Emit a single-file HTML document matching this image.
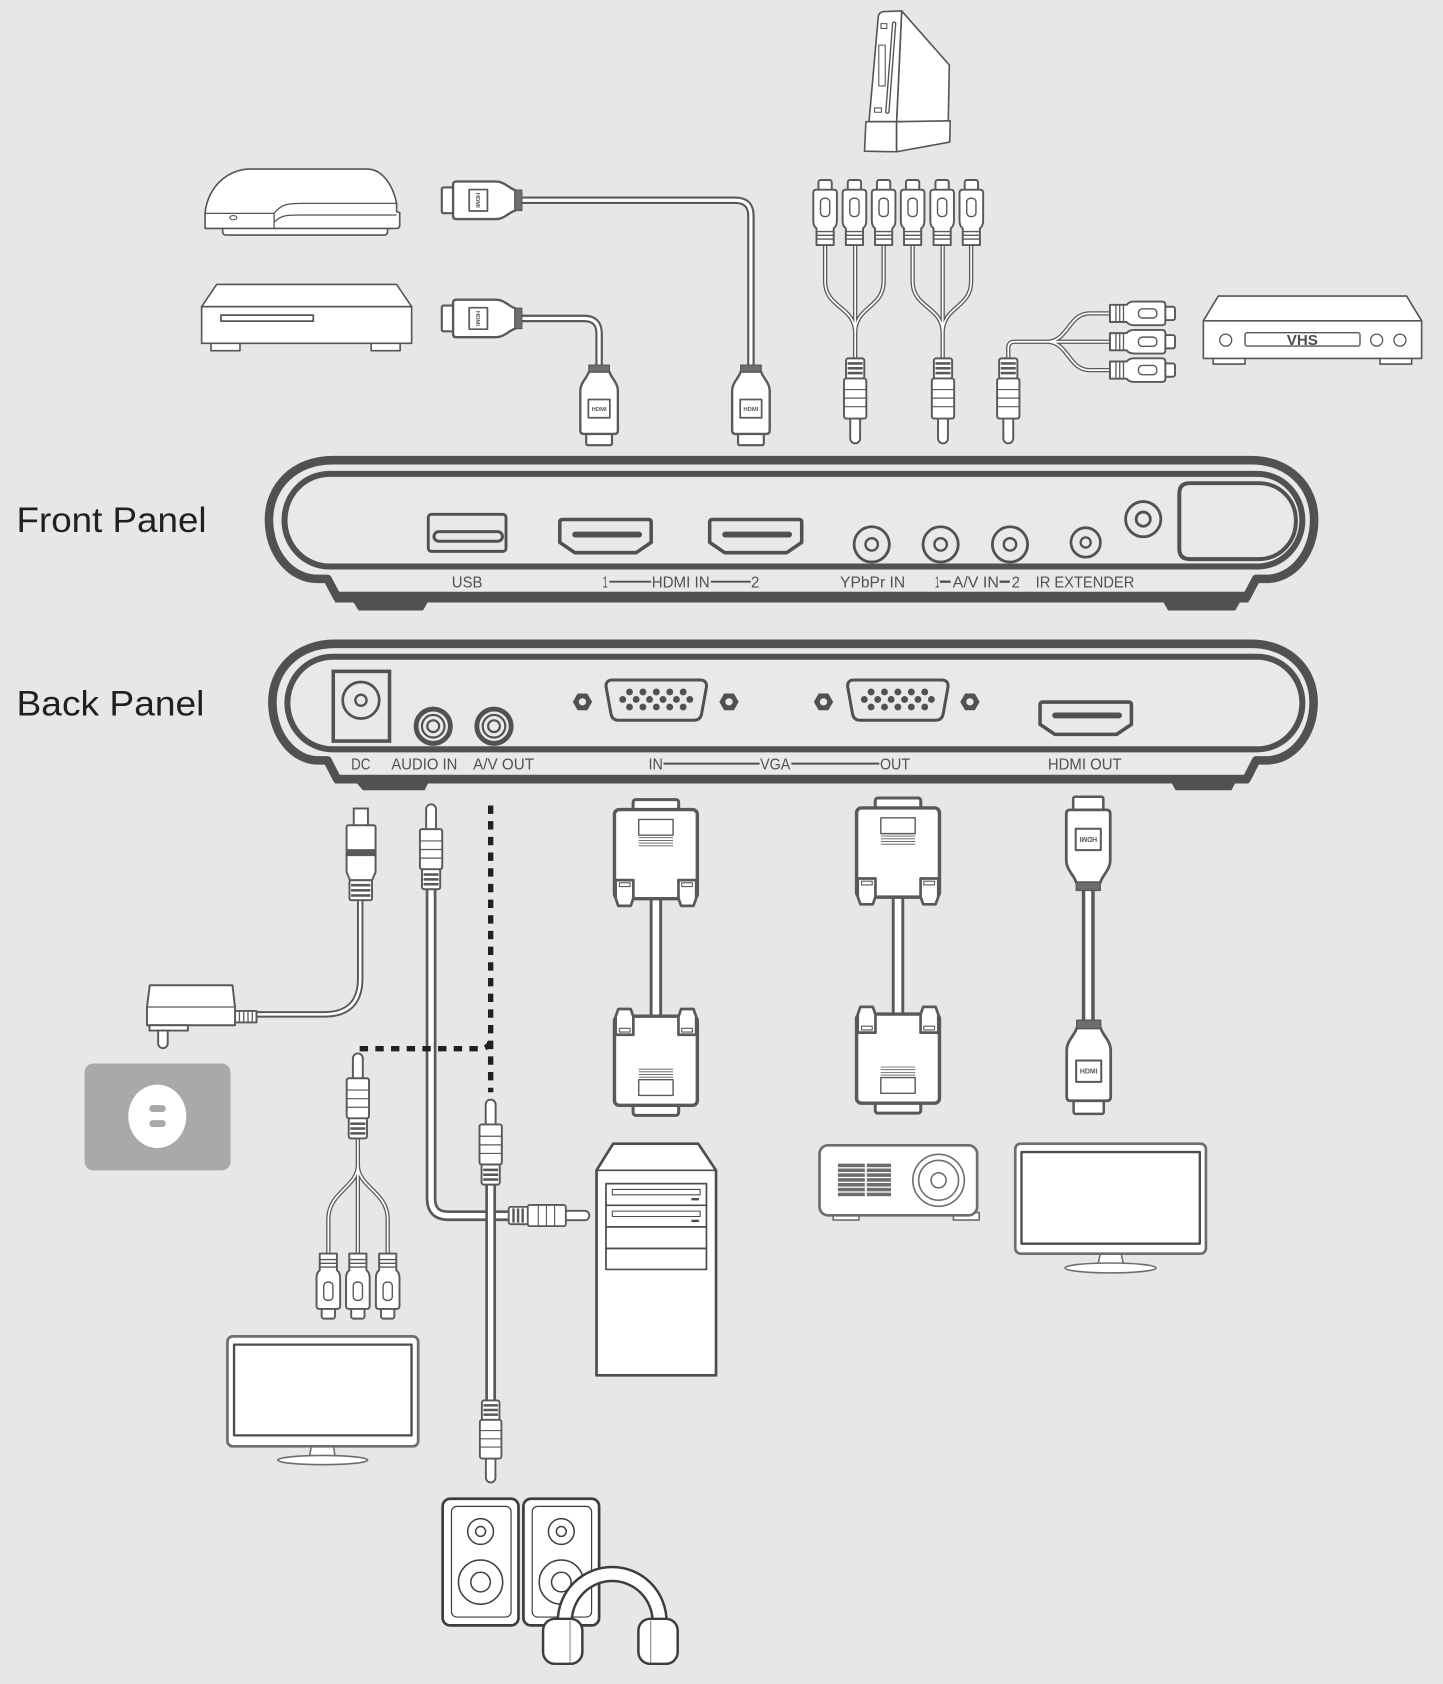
<!DOCTYPE html>
<html><head><meta charset="utf-8">
<style>
html,body{margin:0;padding:0;background:#e6e7e8;}
svg{display:block;}
</style></head><body>
<svg xmlns="http://www.w3.org/2000/svg" width="1443" height="1684" viewBox="0 0 1344 1568" preserveAspectRatio="none" font-family="'Liberation Sans', Arial, sans-serif">
<defs>
 <g id="hdmi" stroke="#58595b" stroke-linejoin="round">
  <rect x="-12" y="18" width="24" height="19.5" rx="1.5" fill="#fff" stroke-width="2"/>
  <path d="M-9.5,-31 H9.5 C11,-25 17.5,-21 17.5,-13 V24 Q17.5,27 14.5,27 H-14.5 Q-17.5,27 -17.5,24 V-13 C-17.5,-21 -11,-25 -9.5,-31 Z" fill="#fff" stroke-width="2.2"/>
  <rect x="-9.5" y="-37" width="19" height="6.5" fill="#6d6e70" stroke-width="1.2"/>
  <rect x="-10" y="-5" width="20" height="17" fill="#fff" stroke-width="1.6"/>
  <text x="0" y="5.5" font-size="5.5" text-anchor="middle" fill="#58595b" stroke="none" font-weight="bold">HDMI</text>
 </g>
 <g id="rcaF" stroke="#58595b" stroke-width="1.8" fill="#fff" stroke-linejoin="round">
  <rect x="-6.2" y="0" width="12.4" height="12" rx="2"/>
  <path d="M-11,12 Q-11,9 -8,9 H8 Q11,9 11,12 V38 Q11,43 8,45 V60.6 H-8 V45 Q-11,43 -11,38 Z"/>
  <rect x="-4.3" y="17" width="8.6" height="17" rx="3.5" stroke-width="1.3"/>
  <path d="M-8,48 H8 M-8,51.5 H8 M-8,55 H8" stroke-width="1.2" fill="none"/>
 </g>
 <g id="rcaM" stroke="#58595b" stroke-width="1.8" fill="#fff" stroke-linejoin="round">
  <path d="M-4.6,55 V74.5 A4.6,4.6 0 0 0 4.6,74.5 V55 Z"/>
  <rect x="-8.5" y="0" width="17" height="19" rx="2"/>
  <rect x="-7" y="3.5" width="14" height="2.4" fill="#58595b" stroke="none"/>
  <rect x="-7" y="8" width="14" height="2.4" fill="#58595b" stroke="none"/>
  <rect x="-7" y="12.5" width="14" height="2.4" fill="#58595b" stroke="none"/>
  <rect x="-10.4" y="18.7" width="20.8" height="37.3" rx="2"/>
  <path d="M-10.4,29 H10.4 M-10.4,37 H10.4 M-10.4,45 H10.4" stroke-width="1.1" fill="none"/>
 </g>
 <g id="vga" stroke="#58595b" fill="#fff" stroke-linejoin="round">
  <rect x="-21.2" y="0" width="42.4" height="14" rx="2.5" stroke-width="2.8"/>
  <rect x="-38.6" y="9.3" width="77.2" height="83" rx="4.5" stroke-width="3.2"/>
  <path d="M-37.5,75 H-21 V92 L-23.5,99 H-35 L-37.5,92 Z" stroke-width="2.5"/>
  <path d="M37.5,75 H21 V92 L23.5,99 H35 L37.5,92 Z" stroke-width="2.5"/>
  <rect x="-34" y="77.5" width="10" height="3.5" stroke-width="1"/>
  <rect x="24" y="77.5" width="10" height="3.5" stroke-width="1"/>
  <rect x="-16" y="18.5" width="32" height="14.7" stroke-width="1.3"/>
  <path d="M-16,35.5 H16 M-16,38 H16 M-16,40.5 H16 M-16,43 H16" stroke-width="0.8" fill="none"/>
 </g>
 <g id="hex">
  <path d="M9,0 L4.5,7.8 L-4.5,7.8 L-9,0 L-4.5,-7.8 L4.5,-7.8 Z" fill="#505153"/>
  <circle r="3.4" fill="#e8e9ea"/>
 </g>
 <g id="jack">
  <circle r="16.4" fill="none" stroke="#505153" stroke-width="2.6"/>
  <circle r="5.8" fill="none" stroke="#505153" stroke-width="2.2"/>
 </g>
</defs>

<rect x="0" y="0" width="1344" height="1568" fill="#e6e7e8"/>

<!-- ===== TOP DEVICES ===== -->
<g fill="#fff" stroke="#555" stroke-width="1.5" stroke-linejoin="round">
 <!-- PS3 -->
 <rect x="207.4" y="210" width="153.6" height="8.9" rx="3"/>
 <path d="M191,212.7 L191,198.7 C193,178 207,160 230,157.4 L343,157.4 C356,158 366,172 369.4,189.4 L369.4,197 L372.3,198 L372.3,210 Q372.3,212.7 369,212.7 Z"/>
 <path d="M191,198.7 H255.3 V212.7 M255.3,198.7 C262,190 268,189.4 281,189.4 H369.4 M255.3,207 C262,200 268,200.2 281,200.2 H369.4" fill="none" stroke-width="1.2"/>
 <ellipse cx="217.3" cy="202.7" rx="3.3" ry="2" stroke-width="1"/>
 <!-- DVD -->
 <rect x="196.5" y="318" width="27" height="8.5"/>
 <rect x="345.7" y="318" width="27" height="8.5"/>
 <path d="M201.8,264.8 H369.4 L383.4,285.6 H187.8 Z"/>
 <rect x="187.8" y="285.6" width="195.6" height="34.1"/>
 <rect x="205.8" y="293.4" width="86" height="5.6" stroke-width="1.6"/>
 <!-- Wii -->
 <path d="M839.8,10.2 L884.2,60.5 L883.2,113.3 L835.1,113.3 Z"/>
 <path d="M818,15.5 Q819,11 823,10.8 L839.8,10.2 L835.1,113.3 L809.4,113.3 Z"/>
 <path d="M806.5,113.3 L835.1,113.3 L835.1,141.3 L805.2,140.8 Z"/>
 <path d="M835.1,113.3 L885,112.5 L884.6,132.3 L835.1,141.3 Z"/>
 <path d="M832.8,22 L826.5,104" stroke-width="4.2" stroke-linecap="round"/>
 <path d="M832.8,22 L826.5,104" stroke="#fff" stroke-width="1.6" stroke-linecap="round"/>
 <rect x="820.5" y="22" width="5.5" height="4.5" stroke-width="1"/>
 <rect x="818.5" y="42" width="6" height="38" stroke-width="1"/>
 <rect x="814.5" y="100.5" width="6.5" height="4" stroke-width="1"/>
 <!-- VHS -->
 <rect x="1130" y="332" width="29.6" height="7"/>
 <rect x="1285.3" y="332" width="29.5" height="7"/>
 <path d="M1134.7,275.7 H1310.1 L1324.1,298.7 H1120.8 Z"/>
 <rect x="1120.8" y="298.7" width="203.3" height="35"/>
 <rect x="1159.6" y="309.8" width="107.1" height="12.4" rx="2" stroke-width="1.3"/>
 <circle cx="1141.6" cy="316.7" r="5.6" stroke-width="1.2"/>
 <circle cx="1282.2" cy="316.7" r="5.6" stroke-width="1.2"/>
 <circle cx="1303.9" cy="316.7" r="5.6" stroke-width="1.2"/>
</g>
<text x="1198.5" y="321.3" font-size="13.5" font-weight="bold" fill="#4d4d4f" textLength="29" lengthAdjust="spacingAndGlyphs">VHS</text>

<!-- ===== TOP CABLES ===== -->
<g fill="none" stroke-linejoin="round">
 <path d="M486,186.5 H685 Q699.4,186.5 699.4,201 V341" stroke="#58595b" stroke-width="7"/>
 <path d="M486,186.5 H685 Q699.4,186.5 699.4,201 V341" stroke="#fff" stroke-width="3"/>
 <path d="M486,296.5 H544 Q558,296.5 558,310.5 V341" stroke="#58595b" stroke-width="7"/>
 <path d="M486,296.5 H544 Q558,296.5 558,310.5 V341" stroke="#fff" stroke-width="3"/>
 <g id="rcab1">
  <path d="M768.5,226 V262 C768.5,287 796.5,285 796.5,310 M796.5,226 V336 M823,226 V262 C823,287 796.5,285 796.5,310" stroke="#58595b" stroke-width="4"/>
  <path d="M768.5,226 V262 C768.5,287 796.5,285 796.5,310 M796.5,226 V336 M823,226 V262 C823,287 796.5,285 796.5,310" stroke="#fff" stroke-width="1.6"/>
 </g>
 <use href="#rcab1" transform="translate(81.5,0)"/>
 <path d="M939.1,336 V324 Q939.1,318.2 945,318.2 H1036 M975,318.2 C995,318.2 995,291.8 1015,291.8 H1036 M975,318.2 C995,318.2 995,344.6 1015,344.6 H1036" stroke="#58595b" stroke-width="4"/>
 <path d="M939.1,336 V324 Q939.1,318.2 945,318.2 H1036 M975,318.2 C995,318.2 995,291.8 1015,291.8 H1036 M975,318.2 C995,318.2 995,344.6 1015,344.6 H1036" stroke="#fff" stroke-width="1.6"/>
</g>

<!-- top connectors -->
<use href="#hdmi" transform="translate(449,186.5) rotate(90)"/>
<use href="#hdmi" transform="translate(449,296.5) rotate(90)"/>
<use href="#hdmi" transform="translate(558,377)"/>
<use href="#hdmi" transform="translate(699.4,377)"/>
<use href="#rcaF" transform="translate(768.5,167.6)"/>
<use href="#rcaF" transform="translate(795.8,167.6)"/>
<use href="#rcaF" transform="translate(823,167.6)"/>
<use href="#rcaF" transform="translate(850,167.6)"/>
<use href="#rcaF" transform="translate(877.5,167.6)"/>
<use href="#rcaF" transform="translate(904.7,167.6)"/>
<use href="#rcaM" transform="translate(796.5,333.7)"/>
<use href="#rcaM" transform="translate(878.3,333.7)"/>
<use href="#rcaM" transform="translate(939.1,333.7)"/>
<use href="#rcaF" transform="translate(1094.4,291.8) rotate(90)"/>
<use href="#rcaF" transform="translate(1094.4,318.2) rotate(90)"/>
<use href="#rcaF" transform="translate(1094.4,344.6) rotate(90)"/>

<!-- ===== LABELS ===== -->
<text x="15.4" y="495.2" font-size="33" fill="#231f20" textLength="177" lengthAdjust="spacingAndGlyphs">Front Panel</text>
<text x="15.4" y="666" font-size="33" fill="#231f20" textLength="175" lengthAdjust="spacingAndGlyphs">Back Panel</text>

<!-- ===== FRONT PANEL ===== -->
<g>
 <path d="M329,560.5 H398.5 L394,568.5 H334 Z" fill="#505153"/>
 <path d="M1083.5,560.5 H1155 L1150.5,568.5 H1088 Z" fill="#505153"/>
 <path d="M310,428.5 H1165 C1200,428.5 1224,452 1224,484 C1224,516 1203,539 1180,539 H1170 L1161,556 H314 L305,539 H295 C272,539 250.5,516 250.5,484 C250.5,452 275,428.5 310,428.5 Z" fill="#e8e9ea" stroke="#505153" stroke-width="8" stroke-linejoin="round"/>
 <rect x="312" y="551" width="851" height="10" fill="#505153"/>
 <rect x="265" y="441.2" width="948" height="86.3" rx="42" ry="43" fill="none" stroke="#505153" stroke-width="5.6"/>
 <!-- USB -->
 <rect x="398.9" y="478.9" width="72.4" height="34.5" rx="3" fill="none" stroke="#505153" stroke-width="2.7"/>
 <rect x="404.2" y="495" width="63.8" height="9" rx="4.5" fill="none" stroke="#505153" stroke-width="2.8"/>
 <!-- HDMI 1,2 -->
 <path d="M524,483.7 H604 Q606.5,483.7 606.5,486.2 V505 L592.5,514.6 H535.4 L521.4,505 V486.2 Q521.4,483.7 524,483.7 Z" fill="none" stroke="#505153" stroke-width="3.3" stroke-linejoin="round"/>
 <rect x="533" y="495" width="65" height="5.5" rx="2.7" fill="#505153"/>
 <path d="M663.6,483.7 H744.2 Q746.7,483.7 746.7,486.2 V505 L732.7,514.6 H675 L661,505 V486.2 Q661,483.7 663.6,483.7 Z" fill="none" stroke="#505153" stroke-width="3.3" stroke-linejoin="round"/>
 <rect x="672.7" y="495" width="65" height="5.5" rx="2.7" fill="#505153"/>
 <!-- jacks -->
 <use href="#jack" transform="translate(811.9,506.9)"/>
 <use href="#jack" transform="translate(876.1,506.9)"/>
 <use href="#jack" transform="translate(940.7,506.9)"/>
 <circle cx="1011.2" cy="505.1" r="13.7" fill="none" stroke="#505153" stroke-width="2.5"/>
 <circle cx="1011.2" cy="505.1" r="4.7" fill="none" stroke="#505153" stroke-width="2.1"/>
 <circle cx="1064.8" cy="483.4" r="16.4" fill="none" stroke="#505153" stroke-width="2.6"/>
 <circle cx="1064.8" cy="483.4" r="6.6" fill="none" stroke="#505153" stroke-width="2.6"/>
 <!-- window -->
 <path d="M1108,449.9 H1172 C1192,449.9 1207,465 1207,485 C1207,505 1192,520.6 1172,520.6 H1108 Q1098.4,520.6 1098.4,511 V459.5 Q1098.4,449.9 1108,449.9 Z" fill="none" stroke="#505153" stroke-width="3.7"/>
 <!-- labels -->
 <g font-size="14.5" fill="#505153">
  <text x="420.8" y="547" textLength="28.6" lengthAdjust="spacingAndGlyphs">USB</text>
  <text x="561.2" y="547" textLength="5" lengthAdjust="spacingAndGlyphs">1</text>
  <text x="607" y="547" textLength="54" lengthAdjust="spacingAndGlyphs">HDMI IN</text>
  <text x="699.5" y="547" textLength="7.7" lengthAdjust="spacingAndGlyphs">2</text>
  <text x="782.4" y="547" textLength="60.6" lengthAdjust="spacingAndGlyphs">YPbPr IN</text>
  <text x="870.8" y="547" textLength="4.1" lengthAdjust="spacingAndGlyphs">1</text>
  <text x="887.3" y="547" textLength="43.1" lengthAdjust="spacingAndGlyphs">A/V IN</text>
  <text x="942.2" y="547" textLength="7.8" lengthAdjust="spacingAndGlyphs">2</text>
  <text x="964.6" y="547" textLength="91.9" lengthAdjust="spacingAndGlyphs">IR EXTENDER</text>
 </g>
 <path d="M567.5,541.6 H606.5 M662,541.6 H699.3" stroke="#505153" stroke-width="1.8"/>
 <path d="M875.5,541.6 H885.4 M931,541.6 H940.5" stroke="#505153" stroke-width="2.2"/>
</g>

<!-- ===== BACK PANEL ===== -->
<g>
 <path d="M330,726.5 H400 L395.5,735.8 H338 Z" fill="#505153"/>
 <path d="M1089.7,726.5 H1151.8 L1147,735.8 H1095 Z" fill="#505153"/>
 <path d="M312,599.5 H1165 C1200,599.5 1223.5,623 1223.5,654 C1223.5,685 1203,708 1180,708 H1170 L1161,725.5 H314 L305,708 H296 C274,708 253.7,685 253.7,654 C253.7,623 277,599.5 312,599.5 Z" fill="#e8e9ea" stroke="#505153" stroke-width="8" stroke-linejoin="round"/>
 <rect x="312" y="721.5" width="851" height="8" fill="#505153"/>
 <rect x="267.7" y="611.5" width="945.3" height="86.2" rx="42" ry="43" fill="none" stroke="#505153" stroke-width="5.6"/>
 <!-- DC -->
 <rect x="310.4" y="625.1" width="52.4" height="64.9" fill="none" stroke="#505153" stroke-width="3.3"/>
 <circle cx="336.2" cy="652" r="17" fill="none" stroke="#505153" stroke-width="2.5"/>
 <circle cx="336.2" cy="652" r="5.2" fill="none" stroke="#505153" stroke-width="2.2"/>
 <!-- audio jacks -->
 <g fill="none" stroke="#505153">
  <circle cx="403.5" cy="676.2" r="16" stroke-width="4.5"/>
  <circle cx="403.5" cy="676.2" r="10.5" stroke-width="2"/>
  <circle cx="403.5" cy="676.2" r="5.5" stroke-width="2"/>
  <circle cx="460.1" cy="676.2" r="16" stroke-width="4.5"/>
  <circle cx="460.1" cy="676.2" r="10.5" stroke-width="2"/>
  <circle cx="460.1" cy="676.2" r="5.5" stroke-width="2"/>
 </g>
 <!-- VGA IN -->
 <use href="#hex" transform="translate(542.5,653.5)"/>
 <use href="#hex" transform="translate(679,653.5)"/>
 <path d="M570.5,633.2 H652 Q658.5,633.2 658,639.5 L653.5,664.5 Q652.5,670.6 646.5,670.6 H576 Q570,670.6 569,664.5 L564.5,639.5 Q564,633.2 570.5,633.2 Z" fill="none" stroke="#505153" stroke-width="2.8"/>
 <g id="pins" fill="#505153">
  <circle cx="586.3" cy="644.3" r="3.2"/><circle cx="598.8" cy="644.3" r="3.2"/><circle cx="611.3" cy="644.3" r="3.2"/><circle cx="623.8" cy="644.3" r="3.2"/><circle cx="636.3" cy="644.3" r="3.2"/>
  <circle cx="580" cy="651.3" r="3.2"/><circle cx="592.5" cy="651.3" r="3.2"/><circle cx="605" cy="651.3" r="3.2"/><circle cx="617.5" cy="651.3" r="3.2"/><circle cx="630" cy="651.3" r="3.2"/><circle cx="642.5" cy="651.3" r="3.2"/>
  <circle cx="586.3" cy="658.3" r="3.2"/><circle cx="598.8" cy="658.3" r="3.2"/><circle cx="611.3" cy="658.3" r="3.2"/><circle cx="623.8" cy="658.3" r="3.2"/><circle cx="636.3" cy="658.3" r="3.2"/>
 </g>
 <!-- VGA OUT -->
 <use href="#hex" transform="translate(767,653.5)"/>
 <use href="#hex" transform="translate(903.4,653.5)"/>
 <path d="M795.5,633.2 H877 Q883.5,633.2 883,639.5 L878.5,664.5 Q877.5,670.6 871.5,670.6 H801 Q795,670.6 794,664.5 L789.5,639.5 Q789,633.2 795.5,633.2 Z" fill="none" stroke="#505153" stroke-width="2.8"/>
 <use href="#pins" transform="translate(225,0)"/>
 <!-- HDMI OUT -->
 <path d="M971.5,653.7 H1051 Q1053.8,653.7 1053.8,656.5 V674.5 L1040,683.8 H982.5 L968.7,674.5 V656.5 Q968.7,653.7 971.5,653.7 Z" fill="none" stroke="#505153" stroke-width="3.3" stroke-linejoin="round"/>
 <rect x="980" y="663.4" width="65" height="5.5" rx="2.7" fill="#505153"/>
 <!-- labels -->
 <g font-size="14.5" fill="#505153">
  <text x="327" y="716.5" textLength="18" lengthAdjust="spacingAndGlyphs">DC</text>
  <text x="364.5" y="716.5" textLength="61.5" lengthAdjust="spacingAndGlyphs">AUDIO IN</text>
  <text x="440.7" y="716.5" textLength="56.7" lengthAdjust="spacingAndGlyphs">A/V OUT</text>
  <text x="604" y="716.5" textLength="13.4" lengthAdjust="spacingAndGlyphs">IN</text>
  <text x="708" y="716.5" textLength="28.1" lengthAdjust="spacingAndGlyphs">VGA</text>
  <text x="819.6" y="716.5" textLength="28" lengthAdjust="spacingAndGlyphs">OUT</text>
  <text x="976" y="716.5" textLength="68.7" lengthAdjust="spacingAndGlyphs">HDMI OUT</text>
 </g>
 <path d="M618,711 H707.5 M737,711 H819" stroke="#505153" stroke-width="1.8"/>
</g>

<!-- ===== LOWER CABLES ===== -->
<g fill="none" stroke-linejoin="round">
 <!-- DC cable -->
 <path d="M335.5,836 V911 Q335.5,944.5 302,944.5 H238" stroke="#58595b" stroke-width="6"/>
 <path d="M335.5,836 V911 Q335.5,944.5 302,944.5 H238" stroke="#fff" stroke-width="2.4"/>
 <!-- audio in cable -->
 <path d="M401.5,826 V1116 Q401.5,1132 417.5,1132 H476" stroke="#58595b" stroke-width="10"/>
 <path d="M401.5,826 V1116 Q401.5,1132 417.5,1132 H476" stroke="#fff" stroke-width="5"/>
 <!-- dotted -->
 <path d="M457,750 V1017" stroke="#231f20" stroke-width="5" stroke-dasharray="7.8 6.8"/>
 <path d="M335,976.4 H447 Q457,976.4 457,966" stroke="#231f20" stroke-width="5" stroke-dasharray="7.8 6.8"/>
 <!-- speaker cable -->
 <path d="M457,1100 V1306" stroke="#58595b" stroke-width="10"/>
 <path d="M457,1100 V1306" stroke="#fff" stroke-width="5"/>
 <!-- splitter -->
 <path d="M333.3,1058 V1085 C333.3,1105 305.8,1110 305.8,1135 V1169 M333.3,1058 V1169 M333.3,1085 C333.3,1105 361.1,1110 361.1,1135 V1169" stroke="#58595b" stroke-width="4"/>
 <path d="M333.3,1058 V1085 C333.3,1105 305.8,1110 305.8,1135 V1169 M333.3,1058 V1169 M333.3,1085 C333.3,1105 361.1,1110 361.1,1135 V1169" stroke="#fff" stroke-width="1.6"/>
 <!-- VGA cables -->
 <path d="M610.9,834 V946 M836.4,832 V944" stroke="#58595b" stroke-width="11.6"/>
 <path d="M610.9,834 V946 M836.4,832 V944" stroke="#fff" stroke-width="6.2"/>
 <!-- HDMI out cable -->
 <path d="M1013.6,826 V952" stroke="#58595b" stroke-width="12"/>
 <path d="M1013.6,826 V952" stroke="#fff" stroke-width="5.5"/>
</g>

<!-- DC plug -->
<g stroke="#58595b" stroke-width="1.8" fill="#fff">
 <rect x="329.5" y="752.8" width="13.2" height="17"/>
 <rect x="322.8" y="768.4" width="27" height="23.3" rx="1.5"/>
 <rect x="322.8" y="791.7" width="27" height="4.6" fill="#58595b"/>
 <path d="M322.8,796.3 H349.8 V812 L346.5,819.6 H326 L322.8,812 Z"/>
 <rect x="325.5" y="819.6" width="21" height="18.6" rx="1.5"/>
 <rect x="327" y="823" width="18" height="2.4" fill="#58595b" stroke="none"/>
 <rect x="327" y="827.8" width="18" height="2.4" fill="#58595b" stroke="none"/>
 <rect x="327" y="832.6" width="18" height="2.4" fill="#58595b" stroke="none"/>
</g>
<!-- adapter -->
<g stroke="#58595b" stroke-width="1.8" fill="#fff" stroke-linejoin="round">
 <rect x="218.9" y="941.3" width="20" height="10.7"/>
 <path d="M223,941.3 V952 M227,941.3 V952 M231,941.3 V952 M235,941.3 V952" stroke-width="1.2"/>
 <path d="M139.5,917.4 H216.5 L218.9,937.6 V954.6 H136.9 V937.6 Z"/>
 <path d="M136.9,937.6 H218.9" stroke-width="1.2"/>
 <rect x="139.2" y="954.6" width="35.8" height="5"/>
 <path d="M147.3,959.6 V971.5 A4.45,4.45 0 0 0 156.2,971.5 V959.6 Z"/>
</g>
<!-- outlet -->
<rect x="78.8" y="990.3" width="135.9" height="99.4" rx="8" fill="#a7a9ab"/>
<ellipse cx="146.5" cy="1039.4" rx="27" ry="29.5" fill="#fff"/>
<rect x="139" y="1029" width="15.4" height="6.4" rx="3.2" fill="#a7a9ab"/>
<rect x="139" y="1043" width="15.4" height="6.4" rx="3.2" fill="#a7a9ab"/>

<!-- plugs -->
<use href="#rcaM" transform="translate(401.5,828) rotate(180)"/>
<use href="#rcaM" transform="translate(333.3,1060) rotate(180)"/>
<use href="#rcaM" transform="translate(457,1103) rotate(180)"/>
<use href="#rcaM" transform="translate(457,1304) scale(0.965)"/>
<use href="#rcaM" transform="translate(473.8,1131.8) rotate(-90) scale(0.95)"/>
<use href="#rcaF" transform="translate(305.8,1227.8) rotate(180)"/>
<use href="#rcaF" transform="translate(333.3,1227.8) rotate(180)"/>
<use href="#rcaF" transform="translate(361.1,1227.8) rotate(180)"/>

<!-- VGA connectors -->
<use href="#vga" transform="translate(610.9,744.5)"/>
<use href="#vga" transform="translate(610.9,1038.5) scale(1,-1)"/>
<use href="#vga" transform="translate(836.4,743)"/>
<use href="#vga" transform="translate(836.4,1036.5) scale(1,-1)"/>
<!-- HDMI out connectors -->
<use href="#hdmi" transform="translate(1013.6,785.7) rotate(180) scale(1.17)"/>
<use href="#hdmi" transform="translate(1014,993.3) scale(1.17)"/>

<!-- ===== LOWER DEVICES ===== -->
<!-- PC -->
<g stroke="#4d4d4f" fill="#fff" stroke-linejoin="round">
 <path d="M571.1,1064.9 H650.3 L666.9,1089.7 V1280.6 H555.6 V1089.7 Z" stroke-width="2.5"/>
 <path d="M555.6,1089.7 H666.9" stroke-width="1.5"/>
 <rect x="564.4" y="1102.1" width="93.6" height="20.2" stroke-width="1.6"/>
 <rect x="564.4" y="1122.3" width="93.6" height="20.1" stroke-width="1.6"/>
 <rect x="564.4" y="1142.4" width="93.6" height="20.1" stroke-width="1.6"/>
 <rect x="564.4" y="1162.5" width="93.6" height="19.5" stroke-width="1.6"/>
 <rect x="570.3" y="1107.5" width="81.8" height="5" stroke-width="1"/>
 <rect x="570.3" y="1127.7" width="81.8" height="5" stroke-width="1"/>
</g>
<rect x="644" y="1115.5" width="7" height="2.2" fill="#4d4d4f"/>
<rect x="644" y="1135.7" width="7" height="2.2" fill="#4d4d4f"/>

<!-- projector -->
<g stroke="#6d6e70" fill="#fff">
 <rect x="776" y="1129" width="24" height="7" stroke-width="1.5"/>
 <rect x="888" y="1129" width="24" height="7" stroke-width="1.5"/>
 <rect x="763.3" y="1066.4" width="146.8" height="65.2" rx="8" stroke-width="2.5"/>
 <ellipse cx="874.2" cy="1099" rx="24" ry="24.2" stroke-width="1.5"/>
 <circle cx="874.2" cy="1099" r="18.6" stroke-width="1.5"/>
 <circle cx="874.2" cy="1099" r="7" stroke-width="1.5"/>
</g>
<g fill="#6d6e70">
 <rect x="780.4" y="1083.5" width="25.1" height="3.3"/><rect x="807.3" y="1083.5" width="22.6" height="3.3"/>
 <rect x="780.4" y="1088" width="25.1" height="3.3"/><rect x="807.3" y="1088" width="22.6" height="3.3"/>
 <rect x="780.4" y="1092.5" width="25.1" height="3.3"/><rect x="807.3" y="1092.5" width="22.6" height="3.3"/>
 <rect x="780.4" y="1097" width="25.1" height="3.3"/><rect x="807.3" y="1097" width="22.6" height="3.3"/>
 <rect x="780.4" y="1101.5" width="25.1" height="3.3"/><rect x="807.3" y="1101.5" width="22.6" height="3.3"/>
 <rect x="780.4" y="1106" width="25.1" height="3.3"/><rect x="807.3" y="1106" width="22.6" height="3.3"/>
 <rect x="780.4" y="1110.5" width="25.1" height="3.3"/><rect x="807.3" y="1110.5" width="22.6" height="3.3"/>
</g>

<!-- monitor right -->
<g fill="#fff" stroke-linejoin="round">
 <path d="M1025,1166 H1044 L1046.5,1178.5 H1022.5 Z" stroke="#6d6e70" stroke-width="1.5"/>
 <ellipse cx="1034.3" cy="1180.6" rx="42.4" ry="4.6" stroke="#6d6e70" stroke-width="1.5"/>
 <rect x="945.6" y="1064.9" width="177.6" height="102.4" rx="5" stroke="#6d6e70" stroke-width="2.5"/>
 <rect x="951.4" y="1072.7" width="166.1" height="85.3" stroke="#4d4d4f" stroke-width="2.2"/>
</g>
<!-- TV left -->
<g fill="#fff" stroke-linejoin="round">
 <path d="M290,1345.5 H310.5 L312.5,1359 H288 Z" stroke="#6d6e70" stroke-width="1.5"/>
 <ellipse cx="300.6" cy="1359.5" rx="41.8" ry="4.3" stroke="#6d6e70" stroke-width="1.5"/>
 <rect x="211.8" y="1244.3" width="177.7" height="102.4" rx="5" stroke="#6d6e70" stroke-width="2.5"/>
 <rect x="218" y="1252" width="165.3" height="84.5" stroke="#4d4d4f" stroke-width="2.2"/>
</g>

<!-- speakers -->
<g fill="#fff" stroke="#3d3d3f">
 <rect x="412.3" y="1395.5" width="70.6" height="117.9" rx="7" stroke-width="2.5"/>
 <rect x="420.5" y="1402.6" width="55.5" height="103.1" rx="5" stroke-width="1.1"/>
 <circle cx="447.6" cy="1426" r="12" stroke-width="1.4"/>
 <circle cx="447.6" cy="1426" r="4.6" stroke-width="1.4"/>
 <circle cx="447.6" cy="1473.1" r="20.6" stroke-width="1.4"/>
 <circle cx="447.6" cy="1473.1" r="9.1" stroke-width="1.4"/>
 <rect x="487.5" y="1395.5" width="70.5" height="117.9" rx="7" stroke-width="2.5"/>
 <rect x="495.7" y="1402.6" width="55.3" height="103.1" rx="5" stroke-width="1.1"/>
 <circle cx="522.8" cy="1426" r="12" stroke-width="1.4"/>
 <circle cx="522.8" cy="1426" r="4.6" stroke-width="1.4"/>
 <circle cx="522.8" cy="1473.1" r="20.6" stroke-width="1.4"/>
 <circle cx="522.8" cy="1473.1" r="9.1" stroke-width="1.4"/>
 <!-- headphones -->
 <path d="M519.5,1515 V1509.7 A50.65,50.65 0 0 1 620.8,1509.7 V1515 H607.8 V1509.7 A37.6,37.6 0 0 0 532.6,1509.7 V1515 Z" stroke-width="2.3"/>
 <rect x="505.8" y="1507.3" width="36.6" height="41.9" rx="11" stroke-width="2.3"/>
 <rect x="594.6" y="1507.3" width="36.6" height="41.9" rx="11" stroke-width="2.3"/>
 <path d="M530.9,1509 V1548 M606,1509 V1548" stroke="#9a9b9d" stroke-width="1.2"/>
</g>
</svg>
</body></html>
